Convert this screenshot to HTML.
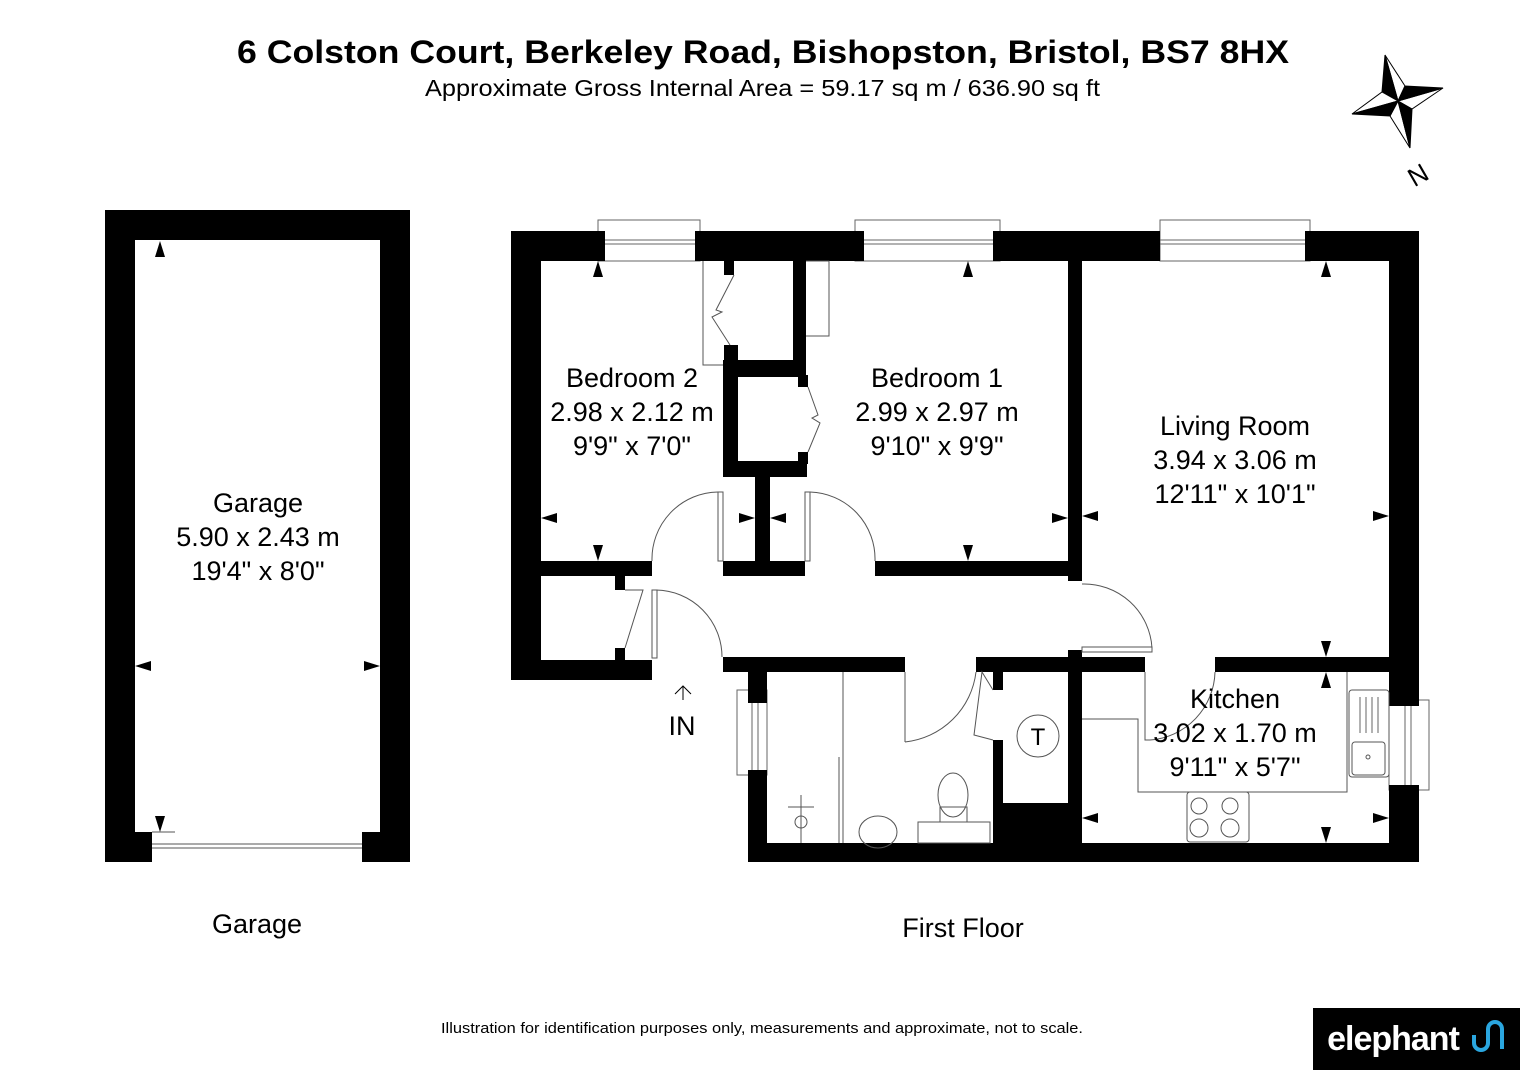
<!DOCTYPE html>
<html><head><meta charset="utf-8"><style>
html,body{margin:0;padding:0;background:#fff;width:1526px;height:1080px;overflow:hidden}
svg{display:block}
text{font-family:"Liberation Sans",sans-serif}
</style></head><body>
<svg width="1526" height="1080" viewBox="0 0 1526 1080" xmlns="http://www.w3.org/2000/svg">
<g fill="#000">
<text x="237" y="63" font-size="32" font-weight="bold" textLength="1052" lengthAdjust="spacingAndGlyphs">6 Colston Court, Berkeley Road, Bishopston, Bristol, BS7 8HX</text>
<text x="425" y="96" font-size="23" textLength="675" lengthAdjust="spacingAndGlyphs">Approximate Gross Internal Area = 59.17 sq m / 636.90 sq ft</text>
</g>
<!-- compass -->
<g stroke="#000" stroke-width="1">
<polygon points="1385,55 1405,86 1398,101" fill="#fff"/>
<polygon points="1385,55 1382,92 1398,101" fill="#000"/>
<polygon points="1443,88 1412,109 1398,101" fill="#fff"/>
<polygon points="1443,88 1405,86 1398,101" fill="#000"/>
<polygon points="1410,148 1390,116 1398,101" fill="#fff"/>
<polygon points="1410,148 1412,109 1398,101" fill="#000"/>
<polygon points="1352,114 1382,92 1398,101" fill="#fff"/>
<polygon points="1352,114 1390,116 1398,101" fill="#000"/>
</g>
<text x="1418" y="184" font-size="26" text-anchor="middle" transform="rotate(-30 1418 175)">N</text>

<!-- garage -->
<g fill="#000">
<rect x="105" y="210" width="305" height="30"/>
<rect x="105" y="210" width="30" height="652"/>
<rect x="380" y="210" width="30" height="652"/>
<rect x="105" y="832" width="47" height="30"/>
<rect x="362" y="832" width="48" height="30"/>
</g>
<g fill="none" stroke="#555" stroke-width="1">
<line x1="152" y1="848" x2="362" y2="848"/><line x1="152" y1="844" x2="362" y2="844"/>
<line x1="152" y1="832" x2="175" y2="832"/>
</g>

<!-- windows -->
<g fill="#fff" stroke="#666" stroke-width="1">
<rect x="598" y="220" width="102" height="41"/><line x1="598" y1="240" x2="700" y2="240"/><line x1="605" y1="244" x2="695" y2="244"/>
<rect x="855" y="220" width="145" height="41"/><line x1="855" y1="240" x2="1000" y2="240"/><line x1="864" y1="244" x2="993" y2="244"/>
<rect x="1160" y="220" width="150" height="41"/><line x1="1160" y1="240" x2="1310" y2="240"/><line x1="1160" y1="244" x2="1305" y2="244"/>
<rect x="737" y="690" width="30" height="85"/><line x1="752" y1="703" x2="752" y2="770"/><line x1="758" y1="703" x2="758" y2="770"/>
<rect x="1389" y="700" width="40" height="90"/><line x1="1405" y1="705" x2="1405" y2="785"/><line x1="1411" y1="705" x2="1411" y2="785"/>
</g>

<!-- main walls -->
<g fill="#000">
<rect x="511" y="231" width="94" height="30"/>
<rect x="695" y="231" width="169" height="30"/>
<rect x="993" y="231" width="167" height="30"/>
<rect x="1305" y="231" width="114" height="30"/>
<rect x="511" y="231" width="30" height="449"/>
<rect x="511" y="561" width="141" height="15"/>
<rect x="511" y="660" width="141" height="20"/>
<rect x="615" y="576" width="10" height="14"/>
<rect x="615" y="648" width="10" height="12"/>
<rect x="724" y="261" width="10" height="14"/>
<rect x="724" y="345" width="14" height="20"/>
<rect x="793" y="261" width="13" height="116"/>
<rect x="723" y="360" width="83" height="17"/>
<rect x="723" y="360" width="15" height="117"/>
<rect x="798" y="375" width="10" height="12"/>
<rect x="798" y="452" width="10" height="12"/>
<rect x="723" y="461" width="84" height="16"/>
<rect x="755" y="461" width="15" height="105"/>
<rect x="723" y="561" width="82" height="15"/>
<rect x="875" y="561" width="207" height="15"/>
<rect x="1068" y="261" width="14" height="320"/>
<rect x="1389" y="231" width="30" height="475"/>
<rect x="1389" y="785" width="30" height="77"/>
<rect x="1068" y="650" width="14" height="212"/>
<rect x="1060" y="657" width="85" height="15"/>
<rect x="1215" y="657" width="174" height="15"/>
<rect x="723" y="657" width="182" height="15"/>
<rect x="748" y="657" width="19" height="46"/>
<rect x="748" y="770" width="19" height="92"/>
<rect x="748" y="843" width="671" height="19"/>
<rect x="976" y="657" width="106" height="15"/>
<rect x="993" y="672" width="10" height="18"/>
<rect x="993" y="740" width="10" height="103"/>
<rect x="1003" y="803" width="65" height="40"/>
</g>

<!-- doors & fixtures -->
<g fill="none" stroke="#555" stroke-width="1">
<polyline points="703,261 703,365 723,365"/>
<polyline points="806,261 829,261 829,336 806,336"/>
<polyline points="734,275 716,310 722,312 712,317 730,345"/>
<polyline points="808,387 818,415 812,418 820,423 808,452"/>
<path d="M652,561 A67,67 0 0 1 718,492"/><rect x="718" y="492" width="5" height="69"/>
<path d="M875,561 A67,67 0 0 0 810,492"/><rect x="805" y="492" width="5" height="69"/>
<path d="M656,590 A67,67 0 0 1 722,657"/><rect x="652" y="590" width="5" height="68"/>
<polyline points="625,648 643,590 625,590"/>
<path d="M1082,584 A68,68 0 0 1 1152,648"/><rect x="1082" y="647" width="70" height="5"/>
<path d="M905,742 A80,80 0 0 0 976,672"/><polyline points="905,672 905,742"/>
<polyline points="993,690 982,672 974,735 993,740"/>
<line x1="843" y1="672" x2="843" y2="843"/><line x1="839" y1="757" x2="839" y2="843"/>
<circle cx="1038" cy="736" r="21"/>
<ellipse cx="953" cy="795" rx="15" ry="22"/><rect x="940" y="807" width="27" height="15"/><rect x="918" y="822" width="72" height="21"/>
<ellipse cx="878" cy="832" rx="19" ry="16"/>
<circle cx="801" cy="822" r="6"/><line x1="801" y1="795" x2="801" y2="843"/><line x1="788" y1="807" x2="814" y2="807"/>
<polyline points="1082,719 1138,719 1138,792 1347,792 1347,672"/>
<rect x="1349" y="690" width="40" height="87" rx="3"/><rect x="1352" y="742" width="33" height="33" rx="3"/><circle cx="1368" cy="757" r="2"/>
<g stroke="#666"><line x1="1360" y1="697" x2="1360" y2="733"/><line x1="1366" y1="697" x2="1366" y2="733"/><line x1="1372" y1="697" x2="1372" y2="733"/><line x1="1378" y1="697" x2="1378" y2="733"/></g>
<rect x="1187" y="792" width="62" height="50" rx="3"/>
<circle cx="1199" cy="806" r="8"/><circle cx="1230" cy="806" r="8"/><circle cx="1199" cy="828" r="9"/><circle cx="1230" cy="828" r="9"/>
<polyline points="1145,672 1145,740 1150,740"/>
<path d="M1215,672 A70,70 0 0 1 1150,740"/>
<path d="M683,700 V686 M675,694 L683,686 L691,694" stroke="#000"/>
</g>

<!-- dimension arrows -->
<g fill="#000">
<path d="M160,241 l-5,16 h10z"/><path d="M160,832 l-5,-16 h10z"/>
<path d="M135,666 l16,-5 v10z"/><path d="M380,666 l-16,-5 v10z"/>
<path d="M598,261 l-5,16 h10z"/><path d="M598,561 l-5,-16 h10z"/>
<path d="M541,518 l16,-5 v10z"/><path d="M755,518 l-16,-5 v10z"/>
<path d="M770,518 l16,-5 v10z"/><path d="M1068,518 l-16,-5 v10z"/>
<path d="M968,261 l-5,16 h10z"/><path d="M968,561 l-5,-16 h10z"/>
<path d="M1082,516 l16,-5 v10z"/><path d="M1389,516 l-16,-5 v10z"/>
<path d="M1326,261 l-5,16 h10z"/><path d="M1326,657 l-5,-16 h10z"/>
<path d="M1326,672 l-5,16 h10z"/><path d="M1326,843 l-5,-16 h10z"/>
<path d="M1082,818 l16,-5 v10z"/><path d="M1389,818 l-16,-5 v10z"/>
</g>

<g fill="#000" font-size="27" text-anchor="middle">
<text x="632" y="387">Bedroom 2</text><text x="632" y="421">2.98 x 2.12 m</text><text x="632" y="455">9'9" x 7'0"</text>
<text x="937" y="387">Bedroom 1</text><text x="937" y="421">2.99 x 2.97 m</text><text x="937" y="455">9'10" x 9'9"</text>
<text x="1235" y="435">Living Room</text><text x="1235" y="469">3.94 x 3.06 m</text><text x="1235" y="503">12'11" x 10'1"</text>
<text x="1235" y="708">Kitchen</text><text x="1235" y="742">3.02 x 1.70 m</text><text x="1235" y="776">9'11" x 5'7"</text>
<text x="258" y="512">Garage</text><text x="258" y="546">5.90 x 2.43 m</text><text x="258" y="580">19'4" x 8'0"</text>
<text x="682" y="735">IN</text>
<text x="1038" y="745" font-size="24">T</text>
<text x="257" y="933">Garage</text>
<text x="963" y="937">First Floor</text>
</g>
<text x="441" y="1033" font-size="15" textLength="642" lengthAdjust="spacingAndGlyphs">Illustration for identification purposes only, measurements and approximate, not to scale.</text>

<rect x="1313" y="1008" width="207" height="62" fill="#000"/>
<text x="1393" y="1050" font-size="34" font-weight="bold" fill="#fff" text-anchor="middle" letter-spacing="-1">elephant</text>
<path d="M1474,1035 v8 a7,7 0 0 0 14,0 v-14 a7,7 0 0 1 14,0 v20" fill="none" stroke="#2aa6df" stroke-width="4"/>
</svg>
</body></html>
